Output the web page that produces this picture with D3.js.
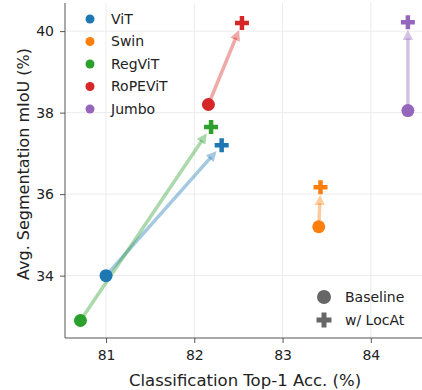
<!DOCTYPE html>
<html>
<head>
<meta charset="utf-8">
<script src="https://cdn.jsdelivr.net/npm/d3@7"></script>
<style>
  body { margin: 0; background: #fff; }
  text { font-family: "DejaVu Sans", "Noto Sans", sans-serif; fill: #222; }
  .grid line { stroke: #ececec; stroke-width: 1; }
  .axis path, .axis line { stroke: #555; }
  .axis text { font-size: 14px; fill: #222; font-family: "DejaVu Sans", sans-serif; }
</style>
</head>
<body>
<div id="chart"></div>
<script>
// SVG dimensions
var w = 422;
var h = 390;
var margin = { top: 3, right: 0, bottom: 52, left: 65 };

// Data
var models = ['ViT', 'Swin', 'RegViT', 'RoPEViT', 'Jumbo'];
var colors = ['#1f77b4', '#ff7f0e', '#2ca02c', '#d62728', '#9467bd'];
var baseAcc = [81.0, 83.41, 80.71, 82.16, 84.42];
var baseMiou = [34.0, 35.2, 32.9, 38.2, 38.05];
var locatAcc = [82.31, 83.43, 82.19, 82.54, 84.42];
var locatMiou = [37.2, 36.17, 37.65, 40.2, 40.22];
var xTicks = [81, 82, 83, 84];
var yTicks = [34, 36, 38, 40];

var svg = d3.select('#chart')
  .append('svg')
  .attr('width', w)
  .attr('height', h);

// Scales
var xScale = d3.scaleLinear()
  .domain([80.535, 84.58])
  .range([margin.left, w - margin.right]);

var yScale = d3.scaleLinear()
  .domain([32.47, 40.69])
  .range([h - margin.bottom, margin.top]);

// Grid
var grid = svg.append('g').attr('class', 'grid');
grid.selectAll('.gx')
  .data(xTicks)
  .enter()
  .append('line')
  .attr('x1', d => xScale(d))
  .attr('x2', d => xScale(d))
  .attr('y1', margin.top)
  .attr('y2', h - margin.bottom);
grid.selectAll('.gy')
  .data(yTicks)
  .enter()
  .append('line')
  .attr('x1', margin.left)
  .attr('x2', w - margin.right)
  .attr('y1', d => yScale(d))
  .attr('y2', d => yScale(d));

// Axes
var xAxis = d3.axisBottom(xScale)
  .tickValues(xTicks)
  .tickSize(5)
  .tickPadding(7)
  .tickFormat(d3.format('d'));

svg.append('g')
  .attr('class', 'axis')
  .attr('transform', `translate(0, ${h - margin.bottom})`)
  .call(xAxis)
  .call(g => g.select('.domain').attr('d', `M${margin.left},0H${w - margin.right}`));

var yAxis = d3.axisLeft(yScale)
  .tickValues(yTicks)
  .tickSize(5)
  .tickPadding(6)
  .tickFormat(d3.format('d'));

svg.append('g')
  .attr('class', 'axis')
  .attr('transform', `translate(${margin.left}, 0)`)
  .call(yAxis)
  .call(g => g.select('.domain').attr('d', `M0,${margin.top}V${h - margin.bottom}`));

// Axis labels
svg.append('text')
  .attr('x', 245)
  .attr('y', h - 4)
  .attr('text-anchor', 'middle')
  .attr('font-size', 16.5)
  .text('Classification Top-1 Acc. (%)');

svg.append('text')
  .attr('transform', 'rotate(-90)')
  .attr('x', -164)
  .attr('y', 29)
  .attr('text-anchor', 'middle')
  .attr('font-size', 16)
  .text('Avg. Segmentation mIoU (%)');

// Arrow heads, one per colour
var defs = svg.append('defs');
models.forEach((m, i) => {
  defs.append('marker')
    .attr('id', 'arrow-' + i)
    .attr('viewBox', '0 0 10 10')
    .attr('refX', 2)
    .attr('refY', 5)
    .attr('markerWidth', 3)
    .attr('markerHeight', 3)
    .attr('markerUnits', 'strokeWidth')
    .attr('orient', 'auto')
    .append('path')
    .attr('d', 'M0,0L10,5L0,10Z')
    .attr('fill', colors[i])
    .attr('fill-opacity', 0.4);
});

// Arrows: from baseline to just short of the LocAt point
var idx = d3.range(models.length);
var shortEnd = function (i, k) {
  var x0 = xScale(baseAcc[i]), y0 = yScale(baseMiou[i]);
  var x1 = xScale(locatAcc[i]), y1 = yScale(locatMiou[i]);
  var len = Math.hypot(x1 - x0, y1 - y0);
  return k === 'x' ? x1 - (x1 - x0) / len * 16 : y1 - (y1 - y0) / len * 16;
};

svg.append('g')
  .selectAll('line')
  .data(idx)
  .enter()
  .append('line')
  .attr('x1', i => xScale(baseAcc[i]))
  .attr('y1', i => yScale(baseMiou[i]))
  .attr('x2', i => shortEnd(i, 'x'))
  .attr('y2', i => shortEnd(i, 'y'))
  .attr('stroke', i => colors[i])
  .attr('stroke-opacity', 0.4)
  .attr('stroke-width', 3.5)
  .attr('marker-end', i => `url(#arrow-${i})`);

// Plus marker path
var plus = function (size, t) {
  var a = size / 2, b = t / 2;
  return `M${-b},${-a}H${b}V${-b}H${a}V${b}H${b}V${a}H${-b}V${b}H${-a}V${-b}H${-b}Z`;
};

// Baseline points
svg.append('g')
  .selectAll('circle')
  .data(idx)
  .enter()
  .append('circle')
  .attr('cx', i => xScale(baseAcc[i]))
  .attr('cy', i => yScale(baseMiou[i]))
  .attr('r', 6.5)
  .attr('fill', i => colors[i]);

// LocAt points
svg.append('g')
  .selectAll('path')
  .data(idx)
  .enter()
  .append('path')
  .attr('transform', i => `translate(${xScale(locatAcc[i])},${yScale(locatMiou[i])})`)
  .attr('d', plus(14, 4.5))
  .attr('fill', i => colors[i]);

// Model legend
var legend = svg.append('g');
models.forEach((m, i) => {
  legend.append('circle')
    .attr('cx', 90)
    .attr('cy', 19 + i * 22.5)
    .attr('r', 4.5)
    .attr('fill', colors[i]);
  legend.append('text')
    .attr('x', 111)
    .attr('y', 19 + i * 22.5)
    .attr('dy', '0.35em')
    .attr('font-size', 14)
    .text(m);
});

// Marker legend
var legend2 = svg.append('g');
legend2.append('circle')
  .attr('cx', 324)
  .attr('cy', 297)
  .attr('r', 7)
  .attr('fill', '#666');
legend2.append('path')
  .attr('transform', 'translate(324,320)')
  .attr('d', plus(15, 5))
  .attr('fill', '#666');
legend2.append('text')
  .attr('x', 345)
  .attr('y', 297)
  .attr('dy', '0.35em')
  .attr('font-size', 14)
  .text('Baseline');
legend2.append('text')
  .attr('x', 345)
  .attr('y', 320)
  .attr('dy', '0.35em')
  .attr('font-size', 14)
  .text('w/ LocAt');
</script>
</body>
</html>
